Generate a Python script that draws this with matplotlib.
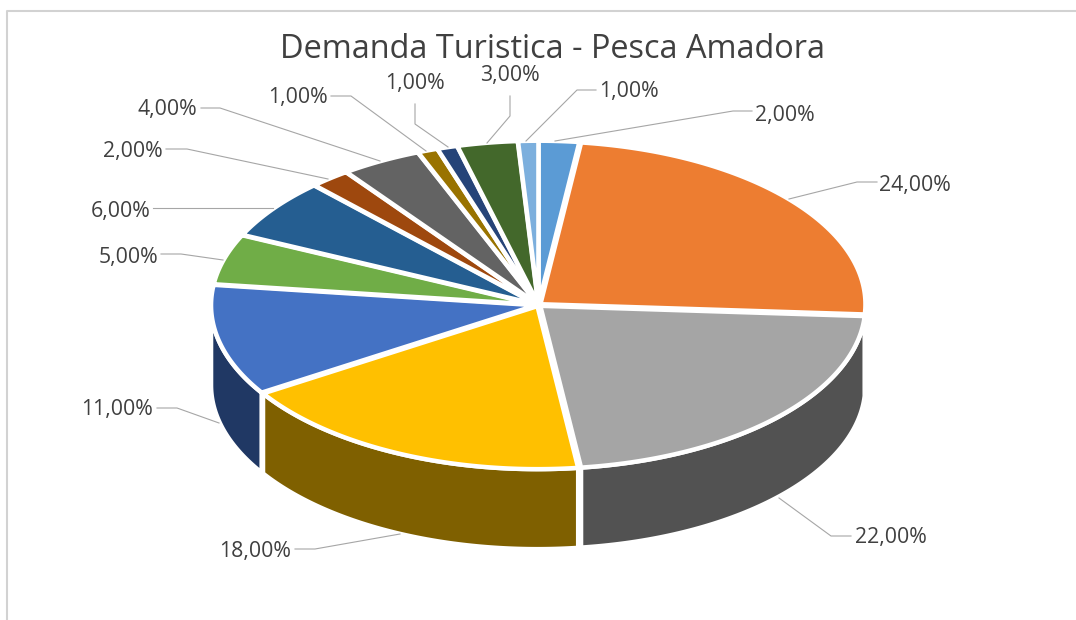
"""Demanda Turistica - Pesca Amadora: 3D-Torte aus Ellipsen-Segmenten."""

import matplotlib

matplotlib.use("Agg")
import matplotlib.pyplot as plt
import numpy as np
from matplotlib.patches import Polygon

TITLE = "Demanda Turistica - Pesca Amadora"

# im Uhrzeigersinn ab 12 Uhr
VALUES = [2, 24, 22, 18, 11, 5, 6, 2, 4, 1, 1, 3, 1]
TOP_COLORS = [
    "#5B9BD5", "#ED7D31", "#A5A5A5", "#FFC000", "#4472C4", "#70AD47", "#255E91",
    "#9E480E", "#636363", "#997300", "#264478", "#43682B", "#7CAFDD",
]
SIDE_COLORS = [
    "#2E75B6", "#843C0C", "#525252", "#7F6000", "#203864", "#385723", "#123049",
    "#4F2407", "#323232", "#4C3A00", "#13223C", "#223416", "#3E5F7E",
]

# Geometrie in Pixeln
CX, CY = 538.5, 305
RX, RY = 325, 163
DEPTH = 80
EXPLODE = 2.5
EDGE_WIDTH = 3.2
FONT = "Open Sans"
TEXT_COLOR = "#404040"
LEADER_COLOR = "#A6A6A6"

# Label-Text-Anker (x, y, ha) und Fuehrungslinien
LABELS = [
    ((755, 115, "left"), [(752, 111), (733, 111), (555, 141)]),
    ((879, 185, "left"), [(877, 182), (857, 182), (789, 199)]),
    ((855, 538, "left"), [(851, 536), (831, 536), (779, 498)]),
    ((291, 552, "right"), [(295, 549), (315, 549), (400, 534)]),
    ((153, 410, "right"), [(157, 408), (177, 408), (219, 423)]),
    ((158, 257, "right"), [(161, 254), (181, 254), (223, 260)]),
    ((150, 211, "right"), [(153, 208), (273, 208)]),
    ((163, 151, "right"), [(166, 149), (187, 149), (328, 179)]),
    ((197, 110, "right"), [(201, 108), (220, 108), (380, 161)]),
    ((328, 98, "right"), [(331, 96), (351, 96), (426, 151)]),
    ((415, 84, "center"), [(415, 104), (415, 124), (448, 147)]),
    ((510, 76, "center"), [(510, 96), (510, 116), (487, 143)]),
    ((599, 92, "left"), [(596, 90), (577, 90), (526, 141)]),
]


def ellipse_points(a_start, a_end, center, dy=0.0):
    """Punkte auf dem Rand, Winkel in Grad im Uhrzeigersinn ab 12 Uhr."""
    angles = np.radians(np.linspace(a_start, a_end, 80))
    return np.column_stack((
        center[0] + RX * np.sin(angles),
        center[1] - RY * np.cos(angles) + dy,
    ))


def main():
    fig = plt.figure(figsize=(10.76, 6.2), dpi=100, facecolor="white")
    ax = fig.add_axes([0, 0, 1, 1])
    ax.set_xlim(0, 1076)
    ax.set_ylim(620, 0)
    ax.axis("off")

    # Rahmen (rechts und unten abgeschnitten)
    ax.plot([7, 7, 1076], [620, 11, 11], color="#D2D2D2", linewidth=1.5, zorder=1)

    bounds = np.cumsum([0] + VALUES) / sum(VALUES) * 360

    # Jedes Segment leicht nach aussen geschoben
    centers = []
    for i in range(len(VALUES)):
        mid = np.radians((bounds[i] + bounds[i + 1]) / 2)
        centers.append((CX + EXPLODE * np.sin(mid), CY - EXPLODE * 0.5 * np.cos(mid)))

    # Seitenwaende, nur der vordere Teil ist sichtbar
    for i in range(len(VALUES)):
        a0, a1 = max(bounds[i], 90), min(bounds[i + 1], 270)
        if a0 >= a1:
            continue
        upper = ellipse_points(a0, a1, centers[i])
        lower = ellipse_points(a1, a0, centers[i], DEPTH)
        ax.add_patch(Polygon(
            np.vstack((upper, lower)), closed=True,
            facecolor=SIDE_COLORS[i], edgecolor="white", linewidth=EDGE_WIDTH,
            joinstyle="miter", zorder=2,
        ))

    # Oberseite
    for i in range(len(VALUES)):
        pts = np.vstack(([centers[i]], ellipse_points(bounds[i], bounds[i + 1], centers[i])))
        ax.add_patch(Polygon(
            pts, closed=True,
            facecolor=TOP_COLORS[i], edgecolor="white", linewidth=EDGE_WIDTH,
            joinstyle="miter", zorder=3,
        ))

    # Beschriftungen
    for value, ((x, y, ha), leader) in zip(VALUES, LABELS):
        xs, ys = zip(*leader)
        ax.plot(xs, ys, color=LEADER_COLOR, linewidth=0.8, zorder=4)
        ax.text(
            x, y, f"{value:.2f}%".replace(".", ","),
            ha=ha, va="center", fontsize=15.3, family=FONT, color=TEXT_COLOR, zorder=5,
        )

    ax.text(
        553, 58, TITLE, ha="center", va="baseline",
        fontsize=23.4, family=FONT, color=TEXT_COLOR, zorder=5,
    )

    fig.savefig("out.png", dpi=100, facecolor="white")
    plt.close(fig)


if __name__ == "__main__":
    main()
